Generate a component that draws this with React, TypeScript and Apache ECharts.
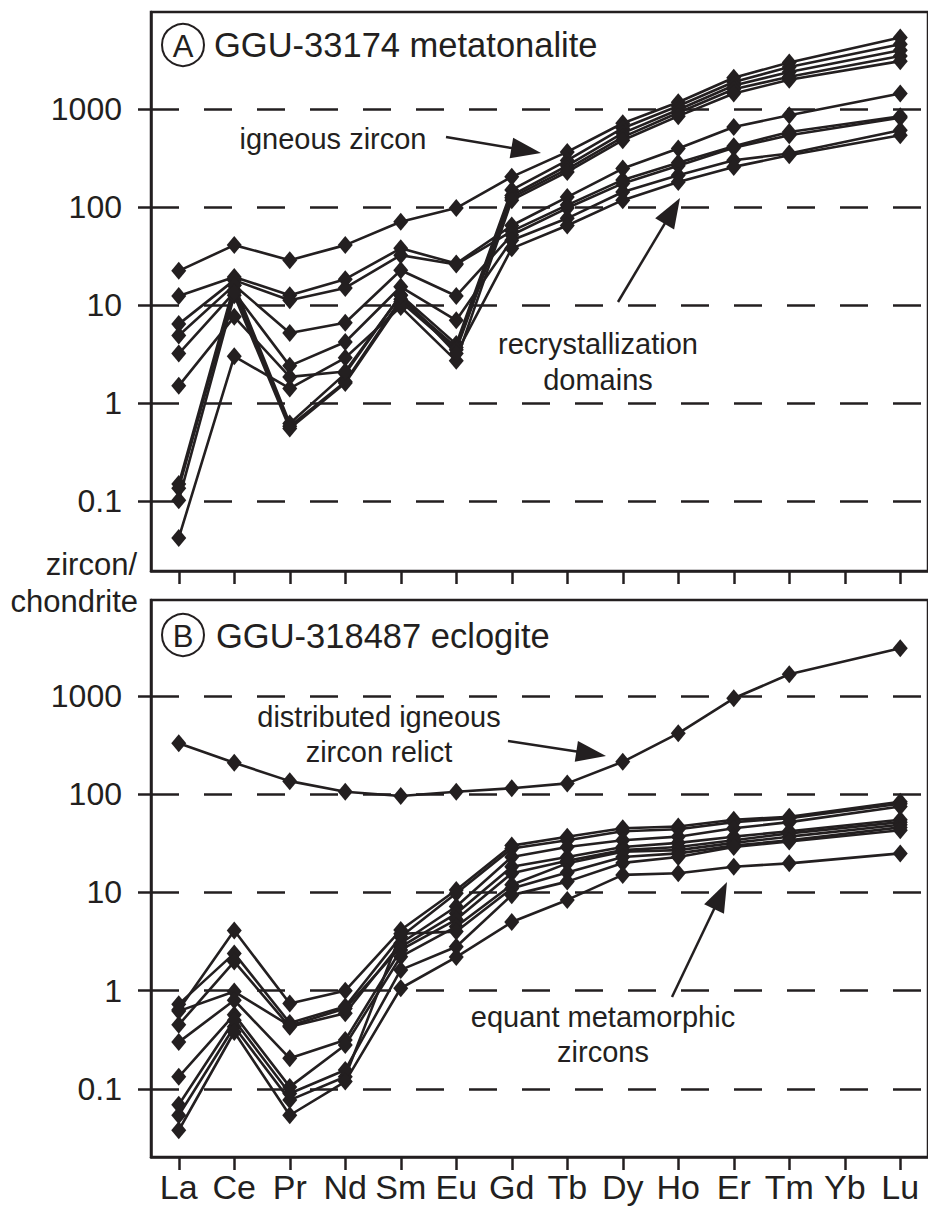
import React, { useEffect, useRef } from 'react';
import * as echarts from 'echarts';

// ---------- data ----------
const elements = ['La', 'Ce', 'Pr', 'Nd', 'Sm', 'Eu', 'Gd', 'Tb', 'Dy', 'Ho', 'Er', 'Tm', 'Yb', 'Lu'];
const yTickValues = [0.1, 1, 10, 100, 1000];

// Panel A: GGU-33174 metatonalite — igneous zircon
const igneousA1 = [22.4, 41, 28.8, 41, 71, 98, 204, 367, 720, 1180, 2100, 3000, null, 5400];
const igneousA2 = [0.149, 16, 0.62, 2.0, 12.6, 4.0, 150, 300, 640, 1080, 1900, 2700, null, 4600];
const igneousA3 = [0.135, 14.2, 0.58, 1.65, 11.5, 3.7, 132, 265, 570, 990, 1750, 2400, null, 4000];
const igneousA4 = [0.102, 12.6, 0.55, 1.6, 10.8, 3.5, 125, 245, 520, 920, 1600, 2150, null, 3500];
const igneousA5 = [0.042, 3.0, 1.41, 2.9, 9.6, 2.7, 118, 229, 483, 850, 1450, 2000, null, 3100];
// Panel A: recrystallization domains
const recrystA1 = [12.4, 19.4, 12.6, 18.4, 38, 26.6, 65, 127, 248, 397, 659, 868, null, 1446];
const recrystA2 = [6.4, 18, 11.2, 15, 32.4, 26, 57, 105, 190, 285, 420, 586, null, 850];
const recrystA3 = [4.9, 16, 5.2, 6.6, 22.7, 12.4, 52, 98, 175, 265, 405, 543, null, 820];
const recrystA4 = [3.2, 13.5, 2.4, 4.2, 15.4, 7.0, 46, 77, 143, 212, 302, 353, null, 611];
const recrystA5 = [1.5, 7.6, 1.85, 2.1, 12.6, 3.2, 38, 65, 118, 181, 258, 339, null, 543];

// Panel B: GGU-318487 eclogite — distributed igneous zircon relict
const relictB = [330, 209, 136, 106, 96, 106, 115, 129, 214, 417, 948, 1663, null, 3060];
// Panel B: equant metamorphic zircons
const metaB1 = [0.64, 4.1, 0.74, 1.0, 4.15, 10.6, 30, 37, 45, 47, 55, 59, null, 84];
const metaB2 = [0.73, 2.4, 0.47, 0.69, 3.55, 9.8, 28, 34, 42, 44, 52, 57, null, 80];
const metaB3 = [0.45, 1.98, 0.43, 0.59, 3.04, 7.2, 23, 29, 34, 37, 45, 52, null, 75];
const metaB4 = [0.62, 0.98, 0.44, 0.66, 2.8, 6.1, 18.3, 23, 29, 32, 37, 42, null, 55];
const metaB5 = [0.30, 0.80, 0.205, 0.315, 2.6, 5.3, 15.7, 21, 27, 29, 34, 40, null, 52];
const metaB6 = [0.133, 0.57, 0.105, 0.28, 2.22, 4.5, 12, 19.8, 26, 27, 32, 37, null, 49];
const metaB7 = [0.054, 0.43, 0.077, 0.133, 3.8, 4.0, 11, 16, 23, 25, 30, 34, null, 46];
const metaB8 = [0.069, 0.50, 0.090, 0.156, 1.63, 2.8, 9.4, 12.9, 20, 23, 29, 33, null, 43];
const metaB9 = [0.038, 0.38, 0.054, 0.119, 1.06, 2.2, 5.0, 8.4, 15.1, 15.7, 18.3, 19.8, null, 25];

const panelASeries = [igneousA1, igneousA2, igneousA3, igneousA4, igneousA5, recrystA1, recrystA2, recrystA3, recrystA4, recrystA5];
const panelBSeries = [relictB, metaB1, metaB2, metaB3, metaB4, metaB5, metaB6, metaB7, metaB8, metaB9];

// ---------- styling ----------
const INK = '#231f20';
const FONT = '"Liberation Sans", Arial, Helvetica, sans-serif';
const NARROW = '"Liberation Sans Narrow", "Arial Narrow", "Liberation Sans", Arial, sans-serif';

const fmt = (v: number) => {
  const e = Math.log10(v);
  const r = Math.round(e);
  if (Math.abs(e - r) > 0.02 || r < -1 || r > 3) return '';
  return r < 0 ? Math.pow(10, r).toFixed(-r) : String(Math.pow(10, r));
};

function makeX(gridIndex: number, showLabels: boolean) {
  return {
    type: 'category',
    gridIndex,
    data: elements,
    boundaryGap: true,
    axisLine: { show: true, lineStyle: { color: INK, width: 2.5 } },
    axisTick: { show: true, alignWithLabel: true, interval: 0, length: 13, lineStyle: { color: INK, width: 2.5 } },
    axisLabel: {
      show: showLabels,
      interval: 0,
      margin: 13,
      color: INK,
      fontSize: 34,
      fontFamily: NARROW,
    },
    splitLine: { show: false },
  };
}

function makeY(gridIndex: number, min: number, max: number) {
  return {
    type: 'log',
    logBase: 10,
    gridIndex,
    min,
    max,
    axisLine: { show: true, lineStyle: { color: INK, width: 2.5 } },
    axisTick: { show: true, length: 13, customValues: yTickValues, lineStyle: { color: INK, width: 2.5 } },
    axisLabel: {
      show: true,
      customValues: yTickValues,
      formatter: fmt,
      margin: 29,
      color: INK,
      fontSize: 32,
      fontFamily: FONT,
    },
    splitLine: {
      show: true,
      lineStyle: { color: INK, width: 2.5, type: [28, 25] },
    },
  };
}

function makeSeries(data: (number | null)[], idx: number) {
  return {
    type: 'line',
    xAxisIndex: idx,
    yAxisIndex: idx,
    data,
    connectNulls: true,
    symbol: 'diamond',
    symbolSize: [15, 18],
    showAllSymbol: true,
    itemStyle: { color: INK },
    lineStyle: { color: INK, width: 2.6 },
    silent: true,
    emphasis: { disabled: true },
    z: 3,
  };
}

function arrow(tail: [number, number], tip: [number, number], len = 30, half = 10.5) {
  const dx = tip[0] - tail[0];
  const dy = tip[1] - tail[1];
  const d = Math.hypot(dx, dy);
  const ux = dx / d;
  const uy = dy / d;
  const bx = tip[0] - ux * len;
  const by = tip[1] - uy * len;
  return [
    {
      type: 'line',
      shape: { x1: tail[0], y1: tail[1], x2: bx + ux * 2, y2: by + uy * 2 },
      style: { stroke: INK, lineWidth: 2.5 },
      z: 10,
    },
    {
      type: 'polygon',
      shape: { points: [[tip[0], tip[1]], [bx - uy * half, by + ux * half], [bx + uy * half, by - ux * half]] },
      style: { fill: INK },
      z: 10,
    },
  ];
}

function label(text: string, x: number, y: number, size: number, align = 'center') {
  return {
    type: 'text',
    x,
    y,
    z: 10,
    style: { text, fill: INK, fontSize: size, fontFamily: FONT, align, verticalAlign: 'middle' },
  };
}

function circled(letter: string, cx: number, cy: number) {
  return [
    { type: 'circle', shape: { cx, cy, r: 21 }, style: { fill: 'none', stroke: INK, lineWidth: 2 }, z: 10 },
    label(letter, cx, cy + 1, 31),
  ];
}

export default function App() {
  const ref = useRef<HTMLDivElement>(null);
  useEffect(() => {
    document.body.style.margin = '0';
    if (!ref.current) return;
    const chart = echarts.init(ref.current, undefined, { renderer: 'svg' });
    const option: any = {
      animation: false,
      textStyle: { fontFamily: FONT },
      grid: [
        { left: 151, right: -2, top: 12, height: 559, show: true, borderColor: INK, borderWidth: 2.5, backgroundColor: 'transparent' },
        { left: 151, right: -2, top: 600, height: 557, show: true, borderColor: INK, borderWidth: 2.5, backgroundColor: 'transparent' },
      ],
      xAxis: [makeX(0, false), makeX(1, true)],
      yAxis: [makeY(0, 0.0193, 9840), makeY(1, 0.0203, 9490)],
      series: [
        ...panelASeries.map((d) => makeSeries(d, 0)),
        ...panelBSeries.map((d) => makeSeries(d, 1)),
      ],
      graphic: [
        ...circled('A', 183, 45),
        label('GGU-33174 metatonalite', 214, 45, 34.5, 'left'),
        ...circled('B', 183, 635),
        label('GGU-318487 eclogite', 216, 636, 34.5, 'left'),
        label('igneous zircon', 333, 139, 29),
        ...arrow([446, 137], [541, 153]),
        label('recrystallization', 598, 344, 29),
        label('domains', 598, 380, 29),
        ...arrow([618, 302], [680, 198], 30, 11),
        label('distributed igneous', 379, 717, 29),
        label('zircon relict', 379, 752, 29),
        ...arrow([508, 741], [606, 756]),
        label('equant metamorphic', 603, 1017, 29),
        label('zircons', 603, 1052, 29),
        ...arrow([672, 997], [727, 882], 30, 11),
        label('zircon/', 137, 564, 31, 'right'),
        label('chondrite', 138, 601, 31, 'right'),
      ],
    };
    chart.setOption(option);
    return () => chart.dispose();
  }, []);
  return <div ref={ref} style={{ width: 928, height: 1211 }} />;
}
